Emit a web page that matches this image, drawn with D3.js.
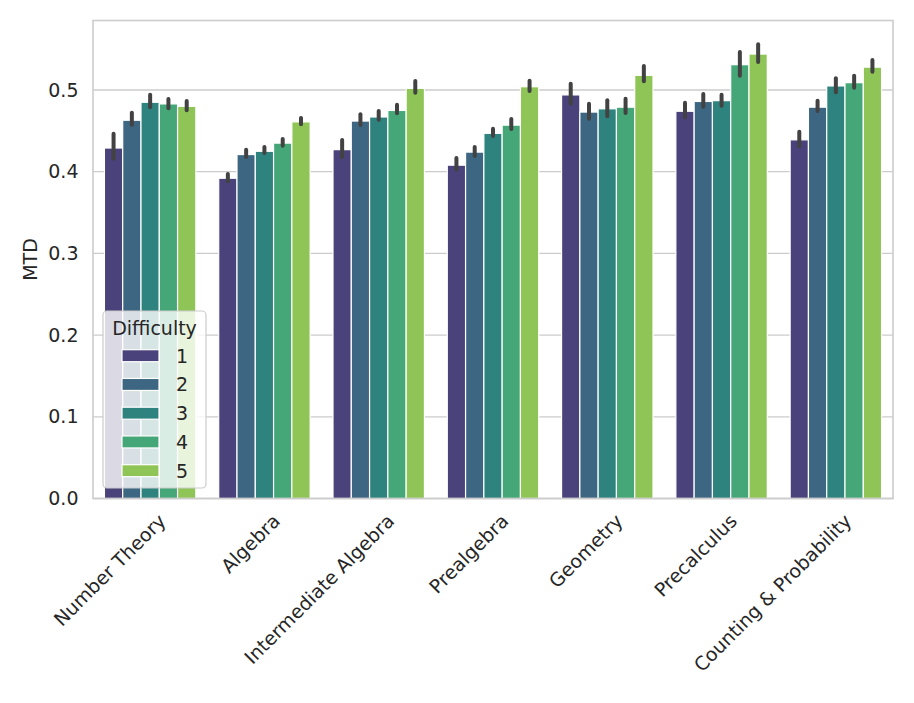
<!DOCTYPE html>
<html>
<head>
<meta charset="utf-8">
<script src="https://cdn.jsdelivr.net/npm/d3@7"></script>
<style>
  body { margin: 0; background: #fff; }
  svg { font-family: "DejaVu Sans", sans-serif; }
</style>
</head>
<body>
<div id="chart"></div>
<script>
const categories = ["Number Theory", "Algebra", "Intermediate Algebra", "Prealgebra", "Geometry", "Precalculus", "Counting & Probability"];
const difficulties = [1, 2, 3, 4, 5];
const yTicks = [0.0, 0.1, 0.2, 0.3, 0.4, 0.5];

// mean MTD per category, one array per difficulty
const mtd1 = [0.429, 0.392, 0.427, 0.408, 0.494, 0.474, 0.439];
const mtd2 = [0.463, 0.421, 0.462, 0.424, 0.473, 0.486, 0.479];
const mtd3 = [0.485, 0.425, 0.467, 0.447, 0.477, 0.487, 0.505];
const mtd4 = [0.483, 0.435, 0.475, 0.457, 0.479, 0.531, 0.509];
const mtd5 = [0.480, 0.461, 0.502, 0.504, 0.518, 0.544, 0.528];

// confidence interval bounds
const lo1 = [0.4135, 0.3858, 0.4155, 0.400, 0.4808, 0.4641, 0.4286];
const hi1 = [0.449, 0.3996, 0.4412, 0.4192, 0.5102, 0.4869, 0.4514];
const lo2 = [0.455, 0.4155, 0.4547, 0.4168, 0.4624, 0.4771, 0.4718];
const hi2 = [0.4747, 0.4294, 0.4727, 0.4327, 0.4857, 0.4975, 0.4894];
const lo3 = [0.4764, 0.4204, 0.4612, 0.4412, 0.4654, 0.4783, 0.4947];
const hi3 = [0.4967, 0.4327, 0.4767, 0.4551, 0.4898, 0.4967, 0.5168];
const lo4 = [0.4751, 0.4294, 0.469, 0.4498, 0.4694, 0.515, 0.5003];
const hi4 = [0.4914, 0.4425, 0.4845, 0.467, 0.4918, 0.549, 0.5199];
const lo5 = [0.4727, 0.4556, 0.4943, 0.4963, 0.5082, 0.5318, 0.5199];
const hi5 = [0.489, 0.4682, 0.5135, 0.5138, 0.5318, 0.5584, 0.5392];

const means = [mtd1, mtd2, mtd3, mtd4, mtd5];
const lows = [lo1, lo2, lo3, lo4, lo5];
const highs = [hi1, hi2, hi3, hi4, hi5];

const w = 914, h = 703;
const plotLeft = 93, plotRight = 893, plotTop = 20.5, plotBottom = 498.5;
const textColor = "#262626";
const gridColor = "#cccccc";
const fontSize = "19px";

// seaborn-like desaturated viridis
const colors = difficulties.map((d, i) => {
  const c = d3.hsl(d3.interpolateViridis((i + 1) / 6));
  c.s *= 0.75;
  return c.formatHex();
});

const rows = [];
categories.forEach((cat, ci) => {
  difficulties.forEach((d, di) => {
    rows.push({ cat, d, di, v: means[di][ci], lo: lows[di][ci], hi: highs[di][ci] });
  });
});

const svg = d3.select("#chart")
  .append("svg")
  .attr("width", w)
  .attr("height", h);

const xScale = d3.scaleBand()
  .domain(categories)
  .range([plotLeft, plotRight])
  .paddingInner(0.2)
  .paddingOuter(0.1);

const xInner = d3.scaleBand()
  .domain(difficulties)
  .range([0, xScale.bandwidth()]);

const yScale = d3.scaleLinear()
  .domain([0, 0.5851])
  .range([plotBottom, plotTop]);

// grid
svg.append("g")
  .selectAll("line")
  .data(yTicks)
  .enter()
  .append("line")
  .attr("x1", plotLeft)
  .attr("x2", plotRight)
  .attr("y1", d => yScale(d))
  .attr("y2", d => yScale(d))
  .attr("stroke", gridColor)
  .attr("stroke-width", 1.3);

// bars
svg.append("g")
  .selectAll("rect")
  .data(rows)
  .enter()
  .append("rect")
  .attr("x", d => xScale(d.cat) + xInner(d.d))
  .attr("y", d => yScale(d.v))
  .attr("width", xInner.bandwidth())
  .attr("height", d => plotBottom - yScale(d.v))
  .attr("fill", d => colors[d.di])
  .attr("stroke", "#fff")
  .attr("stroke-width", 1.2);

// error bars
svg.append("g")
  .selectAll("line")
  .data(rows)
  .enter()
  .append("line")
  .attr("x1", d => xScale(d.cat) + xInner(d.d) + xInner.bandwidth() / 2)
  .attr("x2", d => xScale(d.cat) + xInner(d.d) + xInner.bandwidth() / 2)
  .attr("y1", d => yScale(d.hi) + 2)
  .attr("y2", d => yScale(d.lo) - 2)
  .attr("stroke", "#424242")
  .attr("stroke-width", 4)
  .attr("stroke-linecap", "round");

// frame
svg.append("rect")
  .attr("x", plotLeft)
  .attr("y", plotTop)
  .attr("width", plotRight - plotLeft)
  .attr("height", plotBottom - plotTop)
  .attr("fill", "none")
  .attr("stroke", gridColor)
  .attr("stroke-width", 1.6);

// y axis
const yAxis = d3.axisLeft(yScale)
  .tickValues(yTicks)
  .tickFormat(d3.format(".1f"))
  .tickSize(0)
  .tickPadding(14.5);

svg.append("g")
  .attr("transform", "translate(" + plotLeft + ",0)")
  .call(yAxis)
  .call(g => g.select(".domain").remove())
  .selectAll("text")
  .attr("fill", textColor)
  .style("font-size", fontSize)
  .style("font-family", "DejaVu Sans");

// x axis, rotated labels
const xAxis = d3.axisBottom(xScale).tickSize(0).tickPadding(0);
const xg = svg.append("g")
  .attr("transform", "translate(0," + plotBottom + ")")
  .call(xAxis);
xg.select(".domain").remove();
xg.selectAll("text")
  .attr("fill", textColor)
  .style("font-size", fontSize)
  .style("font-family", "DejaVu Sans")
  .attr("text-anchor", "end")
  .attr("y", 0)
  .attr("dy", "0.8em")
  .attr("transform", "translate(6,13) rotate(-45)");

// y label
svg.append("text")
  .attr("transform", "translate(37," + ((plotTop + plotBottom) / 2) + ") rotate(-90)")
  .attr("text-anchor", "middle")
  .attr("fill", textColor)
  .style("font-size", fontSize)
  .text("MTD");

// legend
const legend = svg.append("g");
legend.append("rect")
  .attr("x", 103)
  .attr("y", 311)
  .attr("width", 103)
  .attr("height", 177)
  .attr("rx", 4)
  .attr("fill", "#fff")
  .attr("fill-opacity", 0.8)
  .attr("stroke", gridColor)
  .attr("stroke-width", 1.2);

legend.append("text")
  .attr("x", 154.5)
  .attr("y", 334.5)
  .attr("text-anchor", "middle")
  .attr("fill", textColor)
  .style("font-size", fontSize)
  .text("Difficulty");

const items = legend.selectAll(".item")
  .data(difficulties)
  .enter()
  .append("g")
  .attr("class", "item")
  .attr("transform", (d, i) => "translate(0," + (355.7 + i * 28.75) + ")");

items.append("rect")
  .attr("x", 122)
  .attr("y", -6)
  .attr("width", 37)
  .attr("height", 12)
  .attr("fill", (d, i) => colors[i])
  .attr("stroke", "#fff")
  .attr("stroke-width", 1.2);

items.append("text")
  .attr("x", 176)
  .attr("y", 0)
  .attr("dy", "0.36em")
  .attr("fill", textColor)
  .style("font-size", fontSize)
  .text(d => d);
</script>
</body>
</html>
